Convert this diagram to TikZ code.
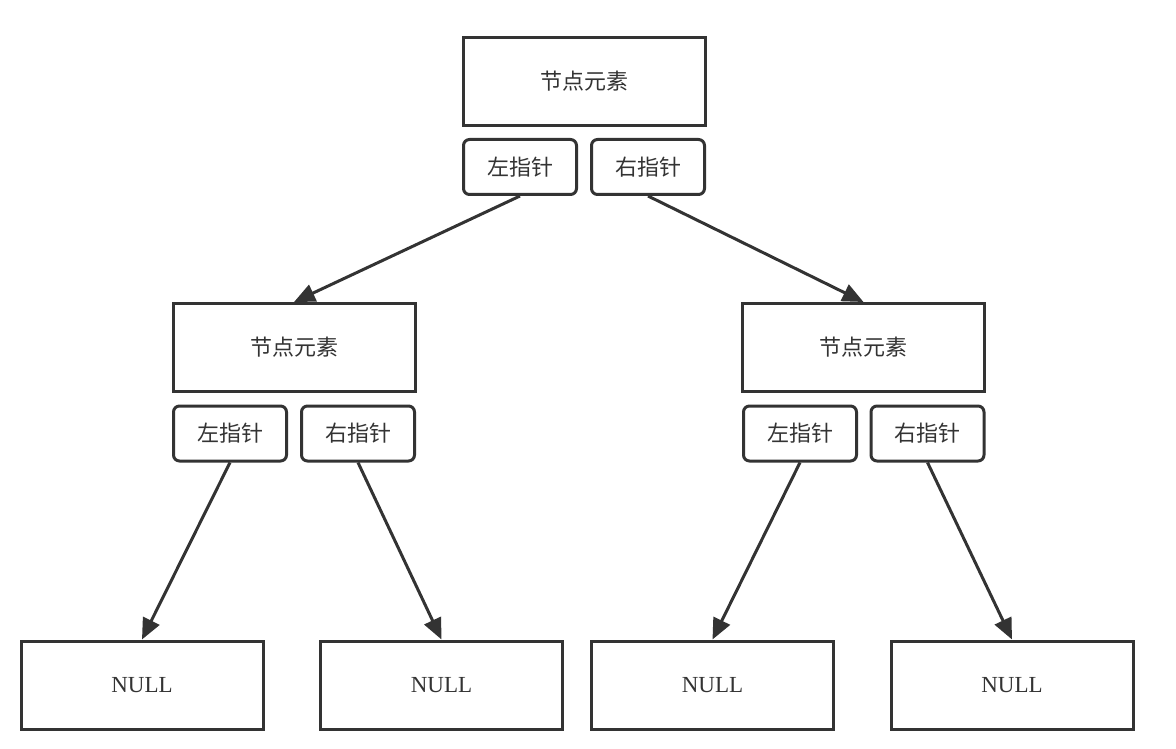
\documentclass[tikz,border=0pt]{standalone}
\usepackage{fontspec}
\setmainfont{Liberation Serif}
\newfontfamily\cjk{Noto Sans CJK SC}
\usetikzlibrary{arrows.meta}
\definecolor{ink}{HTML}{333333}

\begin{document}
\begin{tikzpicture}[%every path/.style={ink},
  x=1pt, y=-1pt,
  elem/.style={draw=ink, line width=3pt, minimum width=242pt, minimum height=88pt,
    inner sep=0pt, text=ink, font=\cjk\fontsize{22}{26}\selectfont},
  ptr/.style={draw=ink, line width=3pt, rounded corners=6pt, minimum width=113pt,
    minimum height=55pt, inner sep=0pt, text=ink, font=\cjk\fontsize{22}{26}\selectfont},
  null/.style={elem, font=\fontsize{23}{27}\selectfont},
  link/.style={draw=ink, line width=3pt, -{Triangle[length=21pt,width=18pt]}},
]
  \useasboundingbox (0,0) rectangle (1176,749);
  % root
  \node[elem] (root) at (584,81.5) {节点元素};
  \node[ptr] (rootL) at (520,167) {左指针};
  \node[ptr] (rootR) at (648,167) {右指针};
  % second level
  \node[elem] (a) at (294,347.5) {节点元素};
  \node[ptr] (aL) at (230,433.5) {左指针};
  \node[ptr] (aR) at (358,433.5) {右指针};
  \node[elem] (b) at (863.5,347.5) {节点元素};
  \node[ptr] (bL) at (800,433.5) {左指针};
  \node[ptr] (bR) at (927.5,433.5) {右指针};
  % leaves
  \node[null] (n1) at (142,685) {NULL};
  \node[null] (n2) at (441.5,685) {NULL};
  \node[null] (n3) at (712.5,685) {NULL};
  \node[null] (n4) at (1012,685) {NULL};
  % links
  \draw[link] (rootL.south) -- (a.north);
  \draw[link] (rootR.south) -- (b.north);
  \draw[link] (aL.south) -- (n1.north);
  \draw[link] (aR.south) -- (n2.north);
  \draw[link] (bL.south) -- (n3.north);
  \draw[link] (bR.south) -- (n4.north);
\end{tikzpicture}
\end{document}
